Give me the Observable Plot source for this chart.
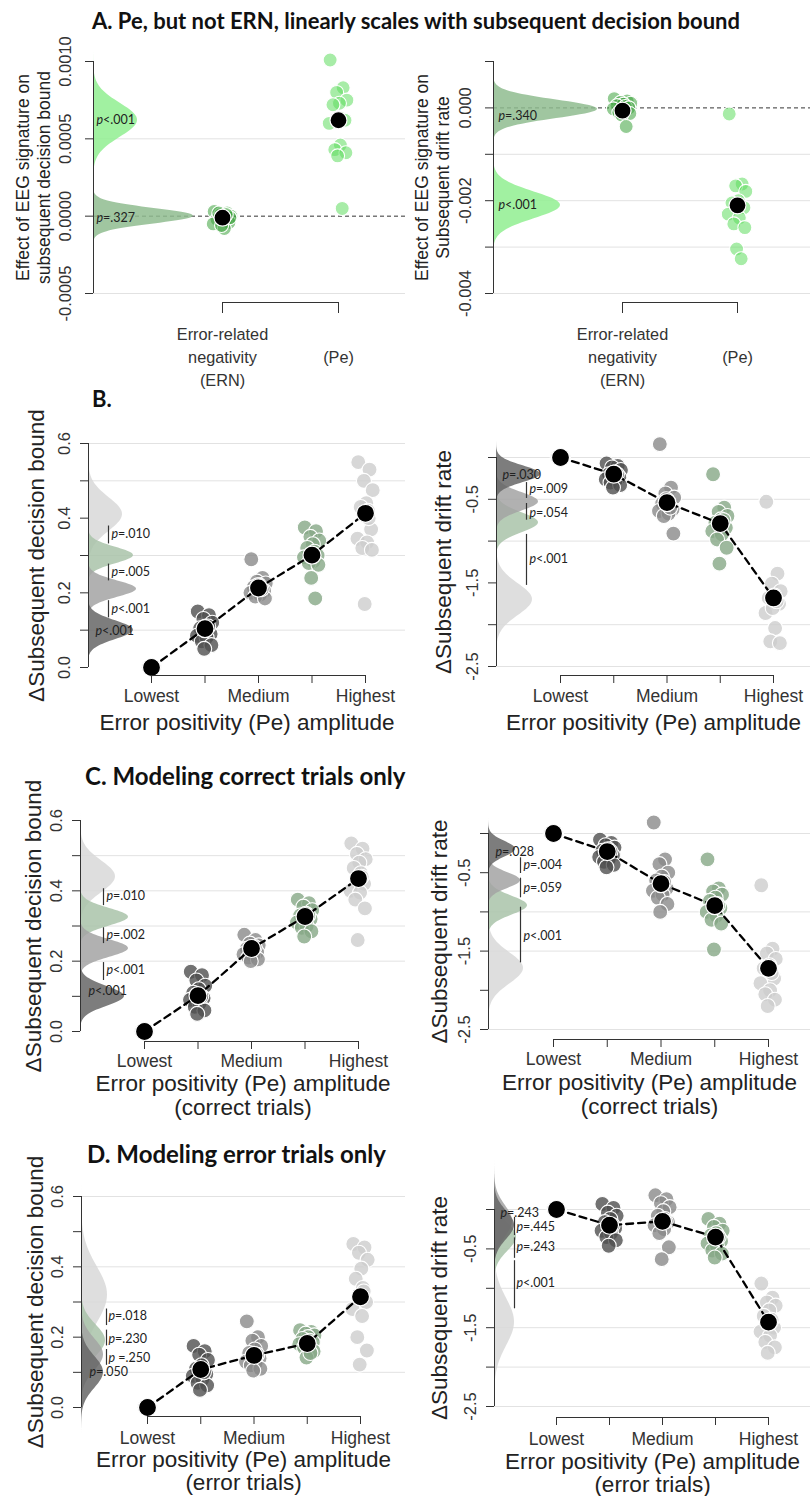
<!DOCTYPE html>
<html><head><meta charset="utf-8">
<script src="https://cdn.jsdelivr.net/npm/d3@7"></script>
<script src="https://cdn.jsdelivr.net/npm/@observablehq/plot@0.6"></script>
<style>
html,body{margin:0;padding:0;background:#fff}
body{width:810px;height:1496px;position:relative;overflow:hidden;font-family:"Liberation Sans",Arial,sans-serif}
.panel{position:absolute}
.title{position:absolute;font-family:Lato,sans-serif;font-weight:bold;color:#111;white-space:nowrap}
</style></head><body>
<div class="title" style="left:92px;top:10px;font-size:22px;line-height:22px">A. Pe, but not ERN, linearly scales with subsequent decision bound</div>
<div class="title" style="left:92px;top:388px;font-size:22px;line-height:22px">B.</div>
<div class="title" style="left:85px;top:764px;font-size:24px;line-height:24px">C. Modeling correct trials only</div>
<div class="title" style="left:87px;top:1142px;font-size:24px;line-height:24px">D. Modeling error trials only</div>
<script>
// ---------------- DATA ----------------
const ernPeLabels = ["Error-related\nnegativity\n(ERN)", "(Pe)"];
const levelLabels = ["Lowest", "", "Medium", "", "Highest"];
const xTitleAll = "Error positivity (Pe) amplitude";
const xTitleCorrect = "Error positivity (Pe) amplitude\n(correct trials)";
const xTitleError = "Error positivity (Pe) amplitude\n(error trials)";
const yTitleBound = "\u0394Subsequent decision bound";
const yTitleDrift = "\u0394Subsequent drift rate";

// Panel A, left: effect on subsequent decision bound
const aBoundERN = [0.00003, 0.00002, 0.00001, 0.0, -0.00001, -0.00002, -0.00003, -0.00004, -0.00005, -0.00008, 0.00002, -0.00001, -0.00006, 0.00001];
const aBoundPe = [0.00101, 0.00083, 0.0008, 0.00075, 0.00073, 0.00072, 0.00063, 0.00062, 0.0006, 0.00046, 0.00043, 0.00041, 0.00039, 0.00005];
const aBoundMeans = [-0.00001, 0.00062];
const aBoundDensMean = [0.0, 0.00062];
const aBoundDensSd = [0.00005, 0.00011];
const aBoundPText = ["p=.327", "p<.001"];
const aBoundPY = [-0.00001, 0.00062];
const aBoundYTicks = [0.0010, 0.0005, 0, -0.0005];
const aBoundYTickText = ["0.0010", "0.0005", "0.0000", "-0.0005"];
const aBoundGrid = [0.0005, -0.0005];

// Panel A, right: effect on subsequent drift rate
const aDriftERN = [0.0002, 0.00015, 0.00012, 0.0001, 0.00008, 0.00005, 0.00003, 0.0, -0.00002, -0.00005, -0.0001, -0.00012, -0.00015, -0.0004];
const aDriftPe = [-0.00013, -0.00164, -0.00168, -0.0018, -0.002, -0.00205, -0.0021, -0.00215, -0.00229, -0.00237, -0.0025, -0.00258, -0.00304, -0.00325];
const aDriftMeans = [-0.00006, -0.0021];
const aDriftDensMean = [-0.00003, -0.0021];
const aDriftDensSd = [0.0002, 0.00029];
const aDriftPText = ["p=.340", "p<.001"];
const aDriftPY = [-0.00017, -0.0021];
const aDriftYTicks = [0.001, 0, -0.001, -0.002, -0.003, -0.004];
const aDriftYTickText = ["", "0.000", "", "-0.002", "", "-0.004"];
const aDriftGrid = [-0.001, -0.002, -0.003, -0.004];

// shared tick sets for B-D
const boundYTicks = [0, 0.1, 0.2, 0.3, 0.4, 0.5, 0.6];
const boundYTickText = ["0.0", "", "0.2", "", "0.4", "", "0.6"];
const driftYTicks = [0, -0.5, -1, -1.5, -2, -2.5];
const driftYTickText = ["", "-0.5", "", "-1.5", "", "-2.5"];

// Panel B, left
const bBound = [
  [0, 0, 0, 0, 0, 0, 0, 0, 0, 0, 0, 0, 0, 0],
  [0.15, 0.14, 0.13, 0.12, 0.11, 0.105, 0.10, 0.09, 0.085, 0.08, 0.07, 0.06, 0.05, 0.11],
  [0.29, 0.24, 0.23, 0.225, 0.22, 0.215, 0.21, 0.205, 0.20, 0.195, 0.19, 0.185, 0.22, 0.21],
  [0.375, 0.365, 0.35, 0.34, 0.33, 0.32, 0.31, 0.30, 0.295, 0.285, 0.28, 0.275, 0.24, 0.185],
  [0.55, 0.53, 0.50, 0.475, 0.44, 0.43, 0.42, 0.37, 0.345, 0.335, 0.32, 0.315, 0.17, 0.40]
];
const bBoundMeans = [0, 0.104, 0.213, 0.301, 0.413];
const bBoundDensMean = [0.10, 0.21, 0.30, 0.41];
const bBoundDensSd = [0.025, 0.022, 0.022, 0.045];
const bBoundPText = ["p<.001", "p<.001", "p=.005", "p=.010"];
const bBoundPY = [0.099, 0.156, 0.256, 0.357];
const bBoundPBar = [null, [0.133, 0.179], [0.232, 0.277], [0.331, 0.379]];
const bBoundGrid = [0.1, 0.3, 0.5, 0.6];

// Panel B, right
const bDrift = [
  [0, 0, 0, 0, 0, 0, 0, 0, 0, 0, 0, 0, 0, 0],
  [-0.07, -0.10, -0.12, -0.15, -0.18, -0.2, -0.22, -0.24, -0.26, -0.28, -0.3, -0.33, -0.36, -0.2],
  [0.16, -0.36, -0.43, -0.48, -0.52, -0.55, -0.58, -0.62, -0.64, -0.67, -0.7, -0.91, -0.5, -0.6],
  [-0.2, -0.6, -0.65, -0.7, -0.74, -0.78, -0.8, -0.84, -0.88, -0.92, -0.98, -1.08, -1.27, -0.75],
  [-0.53, -1.39, -1.51, -1.6, -1.65, -1.68, -1.7, -1.75, -1.86, -2.04, -2.2, -2.22, -1.8, -1.72]
];
const bDriftMeans = [0, -0.2, -0.54, -0.79, -1.68];
const bDriftDensMean = [-0.2, -0.53, -0.78, -1.7];
const bDriftDensSd = [0.1, 0.11, 0.12, 0.19];
const bDriftPText = ["p=.030", "p=.009", "p=.054", "p<.001"];
const bDriftPY = [-0.215, -0.38, -0.66, -1.22];
const bDriftPBar = [null, [-0.30, -0.49], [-0.55, -0.75], [-0.92, -1.53]];
const bDriftGrid = [0, -0.5, -1, -2, -2.5];

// Panel C, left (correct trials)
const cBound = [
  [0, 0, 0, 0, 0, 0, 0, 0, 0, 0, 0, 0, 0, 0],
  [0.17, 0.16, 0.145, 0.13, 0.12, 0.11, 0.10, 0.095, 0.09, 0.08, 0.07, 0.06, 0.05, 0.10],
  [0.275, 0.26, 0.25, 0.245, 0.24, 0.235, 0.23, 0.225, 0.22, 0.215, 0.21, 0.205, 0.2, 0.24],
  [0.375, 0.365, 0.355, 0.345, 0.335, 0.33, 0.325, 0.32, 0.31, 0.30, 0.295, 0.285, 0.27, 0.33],
  [0.535, 0.52, 0.505, 0.49, 0.48, 0.465, 0.45, 0.42, 0.40, 0.395, 0.375, 0.35, 0.26, 0.44]
];
const cBoundMeans = [0, 0.102, 0.236, 0.327, 0.435];
const cBoundDensMean = [0.10, 0.236, 0.325, 0.44];
const cBoundDensSd = [0.028, 0.025, 0.025, 0.045];
const cBoundPText = ["p<.001", "p<.001", "p=.002", "p=.010"];
const cBoundPY = [0.116, 0.176, 0.275, 0.386];
const cBoundPBar = [null, [0.145, 0.196], [0.25, 0.295], [0.358, 0.406]];
const cBoundGrid = [0.2, 0.3, 0.4, 0.5];

// Panel C, right (correct trials)
const cDrift = [
  [0, 0, 0, 0, 0, 0, 0, 0, 0, 0, 0, 0, 0, 0],
  [-0.08, -0.12, -0.15, -0.18, -0.2, -0.22, -0.25, -0.28, -0.3, -0.33, -0.36, -0.4, -0.43, -0.23],
  [0.14, -0.33, -0.39, -0.5, -0.55, -0.6, -0.65, -0.7, -0.73, -0.78, -0.82, -0.9, -1.0, -0.62],
  [-0.33, -0.7, -0.74, -0.78, -0.82, -0.86, -0.9, -0.95, -1.0, -1.05, -1.1, -1.15, -1.48, -0.92],
  [-0.66, -1.47, -1.53, -1.6, -1.68, -1.72, -1.76, -1.85, -1.91, -2.0, -2.05, -2.12, -2.2, -1.78]
];
const cDriftMeans = [0, -0.23, -0.64, -0.92, -1.72];
const cDriftDensMean = [-0.2, -0.6, -0.92, -1.72];
const cDriftDensSd = [0.1, 0.1, 0.12, 0.2];
const cDriftPText = ["p=.028", "p=.004", "p=.059", "p<.001"];
const cDriftPY = [-0.23, -0.4, -0.7, -1.31];
const cDriftPBar = [null, [-0.31, -0.51], [-0.57, -0.82], [-0.94, -1.65]];
const cDriftGrid = [0, -1, -1.5, -2.5];

// Panel D, left (error trials)
const dBound = [
  [0, 0, 0, 0, 0, 0, 0, 0, 0, 0, 0, 0, 0, 0],
  [0.175, 0.16, 0.15, 0.135, 0.12, 0.11, 0.10, 0.095, 0.09, 0.08, 0.07, 0.063, 0.05, 0.1],
  [0.245, 0.2, 0.19, 0.175, 0.165, 0.155, 0.15, 0.14, 0.13, 0.125, 0.12, 0.11, 0.105, 0.15],
  [0.22, 0.215, 0.21, 0.205, 0.2, 0.195, 0.19, 0.185, 0.18, 0.175, 0.17, 0.16, 0.142, 0.155],
  [0.465, 0.455, 0.44, 0.42, 0.395, 0.366, 0.34, 0.30, 0.28, 0.26, 0.2, 0.162, 0.122, 0.33]
];
const dBoundMeans = [0, 0.108, 0.148, 0.182, 0.315];
const dBoundDensMean = [0.10, 0.15, 0.19, 0.32];
const dBoundDensSd = [0.045, 0.045, 0.045, 0.08];
const dBoundPText = ["p=.050", "p =.250", "p=.230", "p=.018"];
const dBoundPY = [0.10, 0.14, 0.196, 0.26];
const dBoundPBar = [null, [0.12, 0.165], [0.175, 0.22], [0.233, 0.28]];
const dBoundGrid = [0.1, 0.3, 0.4, 0.6];

// Panel D, right (error trials)
const dDrift = [
  [0, 0, 0, 0, 0, 0, 0, 0, 0, 0, 0, 0, 0, 0],
  [0.07, 0.02, -0.04, -0.08, -0.12, -0.16, -0.2, -0.24, -0.27, -0.3, -0.35, -0.39, -0.46, -0.2],
  [0.18, 0.13, 0.08, 0.03, -0.02, -0.08, -0.12, -0.16, -0.2, -0.25, -0.3, -0.48, -0.63, -0.15],
  [-0.12, -0.18, -0.22, -0.27, -0.3, -0.33, -0.36, -0.4, -0.43, -0.47, -0.52, -0.56, -0.61, -0.35],
  [-0.94, -1.12, -1.18, -1.22, -1.28, -1.35, -1.43, -1.5, -1.55, -1.6, -1.68, -1.75, -1.82, -1.4]
];
const dDriftMeans = [0, -0.2, -0.15, -0.35, -1.43];
const dDriftDensMean = [-0.2, -0.15, -0.35, -1.43];
const dDriftDensSd = [0.18, 0.2, 0.18, 0.3];
const dDriftPText = ["p=.243", "p=.445", "p=.243", "p<.001"];
const dDriftPY = [-0.04, -0.22, -0.48, -0.93];
const dDriftPBar = [null, [-0.1, -0.33], [-0.36, -0.62], [-0.65, -1.26]];
const dDriftGrid = [0, -0.5, -1, -1.5, -2, -2.5];

// ---------------- STYLE / LAYOUT ----------------
const JIT = [-0.9, 0.5, -0.2, 0.9, 0.1, -0.6, 0.3, 0.7, -1.0, 0.2, -0.4, 0.8, -0.1, 0.4];
const groupFill = ["#b8b8b8", "#4f4f4f", "#8a8a8a", "#86a886", "#cdcdcd"];
const groupDens = ["#666666", "#a3a3a3", "#a9c3a9", "#d8d8d8"];

const baseA = {width: 405, height: 360, top: 40, yTopPx: 61, yBotPx: 293, zeroDash: true,
  densFill: ["#8fbc8f", "#90ee90"], densOpacity: 0.85, pFont: 12.5, jitter: 0.08, r: 7,
  pointFill: ["#3da33d", "#5fdc5f"], pointOpacity: 0.55, meanLine: false, meanR: 8.5,
  yTickPad: 20, yTickFont: 16.5, xAxisPx: 302, xTickSize: 11, xLabelPx: 355, xLabelFont: 16.3, xLabelLH: 1.41,
  yTitleFont: 17.5, yTitleLH: 1.25};
const baseL = {width: 405, densFill: groupDens, densOpacity: 0.85, densReverse: true, pFont: 12.5,
  jitter: 0.15, jitterScale: [0.35, 1, 1, 1, 1], r: 7.5, pointFill: groupFill, pointOpacity: 0.8,
  meanLine: true, meanR: 9, yTickPad: 16, yTickFont: 16.5, xTickSize: 8, xLabelFont: 17.5, xLabelLH: 1.2,
  yTitleFont: 22.5, yTitleLH: 1.2, xTitleFont: 22.5};

function gaussCurve(mean, sd, widthPx) {
  const out = [];
  for (let k = -40; k <= 40; k++) { const z = k / 10; out.push({y: mean + z * sd, w: widthPx * Math.exp(-z * z / 2)}); }
  return out;
}

function italicP(svg) {
  const NS = "http://www.w3.org/2000/svg";
  svg.querySelectorAll("text").forEach(t => {
    const s = t.textContent;
    if (t.children.length === 0 && /^p\s?[=<]/.test(s)) {
      t.textContent = "";
      const a = document.createElementNS(NS, "tspan"); a.setAttribute("font-style", "italic"); a.textContent = "p";
      const b = document.createElementNS(NS, "tspan"); b.textContent = s.slice(1);
      t.append(a, b);
    }
  });
}

function render(L, D) {
  const n = D.catLabels.length;
  const unit = (L.catPx[1] - L.catPx[0]) / (n - 1);
  const xd = px => 1 + (px - L.catPx[0]) / unit;
  const x0 = xd(L.axisPx);
  const [yLo, yHi] = D.yDomain;
  const marks = [];
  marks.push(Plot.ruleY(D.grid, {stroke: "#e2e2e2", strokeWidth: 1}));
  if (L.zeroDash) marks.push(Plot.ruleY([0], {stroke: "#333", strokeDasharray: "4,3", strokeWidth: 1}));
  const order = D.densMean.map((_, i) => i);
  if (L.densReverse) order.reverse();
  for (const i of order) {
    marks.push(Plot.areaX(gaussCurve(D.densMean[i], D.densSd[i], L.densWidth[i]), {
      y: "y", x1: () => x0, x2: d => xd(L.axisPx + d.w), fill: L.densFill[i], fillOpacity: L.densOpacity}));
  }
  const pRows = D.pText.map((t, i) => ({t, y: D.pY[i], bar: D.pBar ? D.pBar[i] : null}));
  const bars = pRows.filter(d => d.bar);
  if (bars.length) marks.push(Plot.ruleX(bars, {x: () => xd(L.axisPx + L.pBarDx), y1: d => d.bar[0], y2: d => d.bar[1], stroke: "#333", strokeWidth: 1.2}));
  marks.push(Plot.text(pRows, {x: d => xd(L.axisPx + (d.bar ? L.pTextDx : L.pFirstDx)), y: "y", text: "t",
    textAnchor: "start", fontFamily: "Lato", fontSize: L.pFont, fill: "#222"}));
  const pts = [];
  D.points.forEach((arr, g) => arr.forEach((v, i) => pts.push({g, v, j: JIT[i % JIT.length]})));
  marks.push(Plot.dot(pts, {x: d => d.g + 1 + d.j * L.jitter * (L.jitterScale ? L.jitterScale[d.g] : 1), y: "v",
    r: L.r, fill: d => L.pointFill[d.g], fillOpacity: L.pointOpacity, stroke: "#fff", strokeWidth: 1.1}));
  if (L.meanLine) marks.push(Plot.line(D.means, {x: (d, i) => i + 1, y: d => d, stroke: "#000", strokeWidth: 2.3, strokeDasharray: "7,5"}));
  marks.push(Plot.dot(D.means, {x: (d, i) => i + 1, y: d => d, r: L.meanR, fill: "#000", stroke: "#fff", strokeWidth: 1.2}));
  // y axis
  marks.push(Plot.ruleX([x0], {y1: yLo, y2: yHi, stroke: "#333"}));
  const tickText = new Map(D.yTicks.map((t, i) => [t, D.yTickText[i]]));
  marks.push(Plot.axisY(D.yTicks, {anchor: "left", tickSize: 8, tickPadding: L.yTickPad, tickRotate: -90,
    lineAnchor: "middle", tickFormat: d => tickText.get(d), fontSize: L.yTickFont, fontFamily: "Liberation Sans"}));
  // x axis
  const dyAx = L.xAxisPx - L.yBotPx;
  marks.push(Plot.ruleY([yLo], {x1: 1, x2: n, dy: dyAx, stroke: "#333"}));
  marks.push(Plot.axisX(D.catLabels.map((_, i) => i + 1), {anchor: "bottom", tickSize: L.xTickSize, dy: dyAx,
    tickPadding: L.xLabelPx - L.xAxisPx - L.xTickSize, lineAnchor: "middle", tickFormat: d => D.catLabels[d - 1],
    fontSize: L.xLabelFont, fontFamily: "Liberation Sans", lineHeight: L.xLabelLH}));
  if (D.xTitle) marks.push(Plot.text([D.xTitle], {text: d => d, frameAnchor: "bottom", dy: L.xTitlePx - L.yBotPx,
    lineAnchor: "middle", textAnchor: "middle", fontSize: L.xTitleFont, fontFamily: "Liberation Sans", lineHeight: L.xTitleLH, fill: "#222"}));
  marks.push(Plot.text([D.yTitle], {text: d => d, frameAnchor: "left", dx: L.yTitlePx - L.axisPx, rotate: -90,
    lineAnchor: "middle", textAnchor: "middle", fontSize: L.yTitleFont, fontFamily: "Liberation Sans", lineHeight: L.yTitleLH, fill: "#222"}));

  const svg = Plot.plot({
    width: L.width, height: L.height,
    marginLeft: L.axisPx - L.left, marginRight: L.left + L.width - L.rightPx,
    marginTop: L.yTopPx - L.top, marginBottom: L.top + L.height - L.yBotPx,
    x: {domain: [x0, xd(L.rightPx)]},
    y: {domain: D.yDomain},
    style: {background: "transparent", color: "#333", fontFamily: "Liberation Sans", overflow: "visible"},
    marks
  });
  italicP(svg);
  const div = document.createElement("div");
  div.className = "panel";
  div.style.left = L.left + "px";
  div.style.top = L.top + "px";
  div.append(svg);
  document.body.append(div);
}

// Panel A
render({...baseA, left: 0, axisPx: 93, rightPx: 405, catPx: [222, 338], densWidth: [100, 44], pFirstDx: 3, yTitlePx: 32},
  {catLabels: ernPeLabels, points: [aBoundERN, aBoundPe], means: aBoundMeans, densMean: aBoundDensMean, densSd: aBoundDensSd,
   pText: aBoundPText, pY: aBoundPY, pBar: null, yDomain: [-0.0005, 0.0010], yTicks: aBoundYTicks, yTickText: aBoundYTickText,
   grid: aBoundGrid, yTitle: "Effect of EEG signature on\nsubsequent decision bound", xTitle: null});
render({...baseA, left: 405, axisPx: 493, rightPx: 810, catPx: [622, 737], densWidth: [104, 67], pFirstDx: 5, yTitlePx: 431},
  {catLabels: ernPeLabels, points: [aDriftERN, aDriftPe], means: aDriftMeans, densMean: aDriftDensMean, densSd: aDriftDensSd,
   pText: aDriftPText, pY: aDriftPY, pBar: null, yDomain: [-0.004, 0.001], yTicks: aDriftYTicks, yTickText: aDriftYTickText,
   grid: aDriftGrid, yTitle: "Effect of EEG signature on\nSubsequent drift rate", xTitle: null});

// Panel B
render({...baseL, left: 0, top: 420, height: 320, axisPx: 88, rightPx: 405, catPx: [151, 365], yTopPx: 443, yBotPx: 667,
   densWidth: [45, 48, 45, 34], pFirstDx: 7, pBarDx: 20, pTextDx: 23, xAxisPx: 675, xLabelPx: 695, xTitlePx: 722, xTitleLH: 1.07, yTitlePx: 35},
  {catLabels: levelLabels, points: bBound, means: bBoundMeans, densMean: bBoundDensMean, densSd: bBoundDensSd,
   pText: bBoundPText, pY: bBoundPY, pBar: bBoundPBar, yDomain: [0, 0.6], yTicks: boundYTicks, yTickText: boundYTickText,
   grid: bBoundGrid, yTitle: yTitleBound, xTitle: xTitleAll});
render({...baseL, left: 405, top: 420, height: 320, axisPx: 496, rightPx: 810, catPx: [560, 773], yTopPx: 457, yBotPx: 666,
   densWidth: [44, 42, 42, 36], pFirstDx: 6, pBarDx: 30, pTextDx: 33, xAxisPx: 675, xLabelPx: 695, xTitlePx: 722, xTitleLH: 1.07, yTitlePx: 442},
  {catLabels: levelLabels, points: bDrift, means: bDriftMeans, densMean: bDriftDensMean, densSd: bDriftDensSd,
   pText: bDriftPText, pY: bDriftPY, pBar: bDriftPBar, yDomain: [-2.5, 0], yTicks: driftYTicks, yTickText: driftYTickText,
   grid: bDriftGrid, yTitle: yTitleDrift, xTitle: xTitleAll});

// Panel C
render({...baseL, left: 0, top: 795, height: 325, axisPx: 80, rightPx: 405, catPx: [144, 358], yTopPx: 820, yBotPx: 1031,
   densWidth: [44, 48, 48, 35], pFirstDx: 8, pBarDx: 23, pTextDx: 26, xAxisPx: 1041, xLabelPx: 1060, xTitlePx: 1095, xTitleLH: 1.07, yTitlePx: 32},
  {catLabels: levelLabels, points: cBound, means: cBoundMeans, densMean: cBoundDensMean, densSd: cBoundDensSd,
   pText: cBoundPText, pY: cBoundPY, pBar: cBoundPBar, yDomain: [0, 0.6], yTicks: boundYTicks, yTickText: boundYTickText,
   grid: cBoundGrid, yTitle: yTitleBound, xTitle: xTitleCorrect});
render({...baseL, left: 405, top: 795, height: 325, axisPx: 488, rightPx: 810, catPx: [553, 768], yTopPx: 833, yBotPx: 1029,
   densWidth: [27, 32, 39, 35], pFirstDx: 7, pBarDx: 32, pTextDx: 35, xAxisPx: 1039, xLabelPx: 1058, xTitlePx: 1094, xTitleLH: 1.07, yTitlePx: 438},
  {catLabels: levelLabels, points: cDrift, means: cDriftMeans, densMean: cDriftDensMean, densSd: cDriftDensSd,
   pText: cDriftPText, pY: cDriftPY, pBar: cDriftPBar, yDomain: [-2.5, 0], yTicks: driftYTicks, yTickText: driftYTickText,
   grid: cDriftGrid, yTitle: yTitleDrift, xTitle: xTitleCorrect});

// Panel D
render({...baseL, left: 0, top: 1170, height: 326, axisPx: 81, rightPx: 405, catPx: [147, 360], yTopPx: 1196, yBotPx: 1407,
   densWidth: [22, 22, 24, 26], pFirstDx: 8, pBarDx: 25, pTextDx: 27, xAxisPx: 1416, xLabelPx: 1437, xTitlePx: 1471, xTitleLH: 1.0, yTitlePx: 34},
  {catLabels: levelLabels, points: dBound, means: dBoundMeans, densMean: dBoundDensMean, densSd: dBoundDensSd,
   pText: dBoundPText, pY: dBoundPY, pBar: dBoundPBar, yDomain: [0, 0.6], yTicks: boundYTicks, yTickText: boundYTickText,
   grid: dBoundGrid, yTitle: yTitleBound, xTitle: xTitleError});
render({...baseL, left: 405, top: 1170, height: 326, axisPx: 494, rightPx: 810, catPx: [556, 768], yTopPx: 1209, yBotPx: 1406,
   densWidth: [20, 18, 22, 20], pFirstDx: 6, pBarDx: 20, pTextDx: 22, xAxisPx: 1417, xLabelPx: 1438, xTitlePx: 1473, xTitleLH: 1.0, yTitlePx: 438},
  {catLabels: levelLabels, points: dDrift, means: dDriftMeans, densMean: dDriftDensMean, densSd: dDriftDensSd,
   pText: dDriftPText, pY: dDriftPY, pBar: dDriftPBar, yDomain: [-2.5, 0], yTicks: driftYTicks, yTickText: driftYTickText,
   grid: dDriftGrid, yTitle: yTitleDrift, xTitle: xTitleError});
</script>
</body></html>
